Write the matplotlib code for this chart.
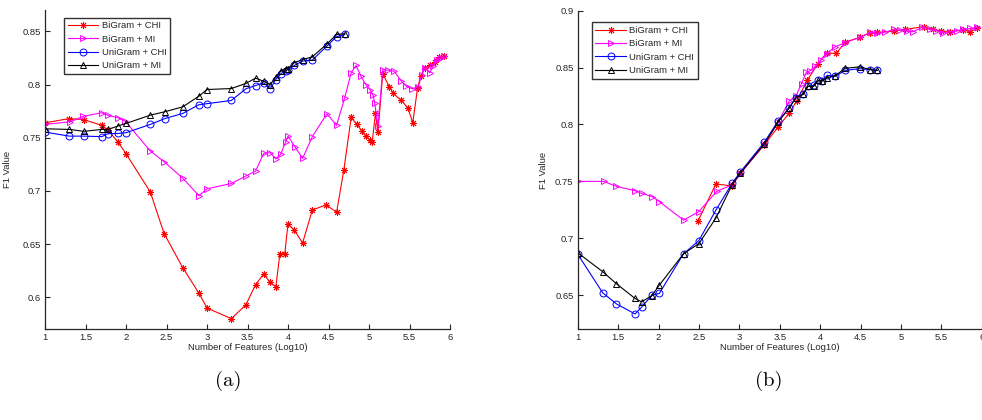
import matplotlib
matplotlib.use("Agg")
import matplotlib.pyplot as plt

plt.rcParams['font.family'] = ['Liberation Sans', 'DejaVu Sans']

# ---------------- data (a) ----------------
x_uni_a = [1.0, 1.3, 1.48, 1.7, 1.78, 1.9, 2.0, 2.3, 2.48, 2.7, 2.9, 3.0, 3.3, 3.48, 3.6, 3.7,
           3.78, 3.85, 3.91, 3.97, 4.0, 4.08, 4.18, 4.3, 4.48, 4.6, 4.7]
uni_chi_a = [0.7553, 0.7515, 0.7515, 0.751, 0.7538, 0.754, 0.7547, 0.7625, 0.768, 0.7728, 0.781,
             0.782, 0.785, 0.796, 0.799, 0.8016, 0.796, 0.8047, 0.810, 0.813, 0.814, 0.818, 0.822,
             0.823, 0.836, 0.845, 0.847]
uni_mi_a = [0.7584, 0.7578, 0.756, 0.7578, 0.7578, 0.761, 0.7634, 0.7712, 0.7744, 0.779, 0.789,
            0.7953, 0.7962, 0.801, 0.806, 0.803, 0.80, 0.807, 0.8125, 0.815, 0.815, 0.8206, 0.8234,
            0.826, 0.838, 0.847, 0.8478]

x_bichi_a = [1.0, 1.3, 1.48, 1.7, 1.78, 1.9, 2.0, 2.3, 2.47, 2.7, 2.9, 3.0, 3.3, 3.48, 3.6, 3.7,
             3.78, 3.85, 3.9, 3.96, 4.0, 4.08, 4.18, 4.3, 4.47, 4.6, 4.69, 4.78, 4.85, 4.91, 4.96,
             5.01, 5.04, 5.08, 5.11, 5.17, 5.25, 5.3, 5.4, 5.48, 5.54, 5.6, 5.64, 5.69, 5.75, 5.81,
             5.87, 5.92]
bi_chi_a = [0.764, 0.768, 0.767, 0.7616, 0.757, 0.746, 0.735, 0.699, 0.66, 0.628, 0.604, 0.59,
            0.58, 0.593, 0.612, 0.622, 0.614, 0.61, 0.641, 0.641, 0.669, 0.663, 0.651, 0.682,
            0.687, 0.68, 0.72, 0.769, 0.7625, 0.7566, 0.7515, 0.748, 0.746, 0.773, 0.755, 0.81,
            0.798, 0.7916, 0.785, 0.778, 0.764, 0.797, 0.808, 0.8157, 0.818, 0.821, 0.8257, 0.8266]

x_bimi_a = [1.0, 1.31, 1.47, 1.7, 1.78, 1.9, 1.99, 2.3, 2.47, 2.7, 2.9, 3.0, 3.3, 3.48, 3.6, 3.7,
            3.78, 3.85, 3.91, 3.97, 4.0, 4.09, 4.18, 4.3, 4.48, 4.6, 4.7, 4.78, 4.84, 4.9, 4.96,
            5.01, 5.05, 5.07, 5.11, 5.17, 5.24, 5.31, 5.4, 5.46, 5.53, 5.61, 5.65, 5.69, 5.75,
            5.79, 5.84, 5.89, 5.93]
bi_mi_a = [0.7625, 0.765, 0.77, 0.7735, 0.771, 0.7688, 0.7656, 0.7375, 0.7275, 0.712, 0.6956,
           0.702, 0.707, 0.714, 0.7187, 0.7353, 0.736, 0.73, 0.7344, 0.746, 0.7515, 0.741, 0.7306,
           0.751, 0.7725, 0.7616, 0.7875, 0.811, 0.818, 0.8078, 0.8, 0.7953, 0.79, 0.783, 0.761,
           0.814, 0.8134, 0.8125, 0.803, 0.7984, 0.796, 0.798, 0.8087, 0.8157, 0.811, 0.817,
           0.8234, 0.825, 0.8266]

# ---------------- data (b) ----------------
x_uni_b = [1.0, 1.31, 1.48, 1.71, 1.79, 1.92, 2.01, 2.31, 2.5, 2.71, 2.91, 3.01, 3.31, 3.48, 3.62,
           3.7, 3.79, 3.85, 3.92, 3.98, 4.02, 4.09, 4.19, 4.31, 4.49, 4.62, 4.71]
uni_chi_b = [0.686, 0.652, 0.6423, 0.6335, 0.6394, 0.65, 0.6515, 0.6864, 0.698, 0.7247, 0.7482,
             0.758, 0.7844, 0.803, 0.8147, 0.8235, 0.8265, 0.8335, 0.8344, 0.8388, 0.8382, 0.8432,
             0.8424, 0.8476, 0.849, 0.8483, 0.8476]
uni_mi_b = [0.6873, 0.6706, 0.66, 0.6471, 0.6441, 0.6497, 0.6588, 0.6864, 0.6953, 0.7177, 0.747,
            0.757, 0.783, 0.802, 0.8147, 0.8235, 0.8265, 0.8335, 0.8335, 0.8388, 0.8382, 0.8412,
            0.843, 0.8494, 0.8506, 0.8483, 0.8476]

x_bimi_b = [1.0, 1.32, 1.48, 1.71, 1.79, 1.92, 2.01, 2.31, 2.5, 2.72, 2.91, 3.01, 3.31, 3.48, 3.62,
            3.7, 3.77, 3.83, 3.87, 3.94, 4.01, 4.08, 4.18, 4.31, 4.49, 4.62, 4.7, 4.8, 4.91, 4.99,
            5.07, 5.15, 5.26, 5.36, 5.44, 5.52, 5.61, 5.69, 5.77, 5.86, 5.94]
bi_mi_b = [0.75, 0.75, 0.7456, 0.7418, 0.7394, 0.7367, 0.7323, 0.7159, 0.7235, 0.7412, 0.747,
           0.7565, 0.783, 0.802, 0.821, 0.8247, 0.836, 0.846, 0.847, 0.8512, 0.8565, 0.862, 0.868,
           0.872, 0.8765, 0.881, 0.88, 0.881, 0.8835, 0.8829, 0.8823, 0.8815, 0.8853, 0.8835,
           0.8823, 0.8806, 0.8815, 0.8823, 0.8835, 0.8844, 0.8853]

x_bichi_b = [2.49, 2.71, 2.91, 3.01, 3.31, 3.48, 3.62, 3.71, 3.84, 3.97, 4.08, 4.2, 4.31, 4.49,
             4.62, 4.7, 4.91, 5.05, 5.28, 5.4, 5.5, 5.61, 5.77, 5.86, 5.94]
bi_chi_b = [0.7153, 0.7477, 0.746, 0.757, 0.782, 0.798, 0.81, 0.8206, 0.8388, 0.853, 0.863, 0.8624,
            0.8724, 0.8765, 0.8806, 0.881, 0.882, 0.8835, 0.886, 0.8835, 0.8823, 0.8815, 0.883,
            0.8815, 0.8844]

labels = ['BiGram + CHI', 'BiGram + MI', 'UniGram + CHI', 'UniGram + MI']
x_ticks = [1, 1.5, 2, 2.5, 3, 3.5, 4, 4.5, 5, 5.5, 6]
x_ticklabels = ['1', '1.5', '2', '2.5', '3', '3.5', '4', '4.5', '5', '5.5', '6']
y_ticks_a = [0.6, 0.65, 0.7, 0.75, 0.8, 0.85]
y_ticklabels_a = ['0.6', '0.65', '0.7', '0.75', '0.8', '0.85']
y_ticks_b = [0.65, 0.7, 0.75, 0.8, 0.85, 0.9]
y_ticklabels_b = ['0.65', '0.7', '0.75', '0.8', '0.85', '0.9']

FS = 6.8
W, H = 982, 420
fig = plt.figure(figsize=(W / 100, H / 100), dpi=100)

ax_a = fig.add_axes([45 / W, 1 - 329.3 / H, 405 / W, 319.3 / H])
ax_b = fig.add_axes([577.7 / W, 1 - 329.3 / H, 404 / W, 318.6 / H])

asterisk = (8, 2, 0)
lw = 0.8
ms = 5
mew = 0.7


def draw(ax, xbc, ybc, xbm, ybm, xu, yuc, yum):
    ax.plot(xbc, ybc, color='#ff0000', lw=lw, marker=asterisk, ms=ms, mew=mew, label=labels[0])
    ax.plot(xbm, ybm, color='#ff00ff', lw=lw, marker='>', ms=ms, mew=mew, mfc='none',
            label=labels[1])
    ax.plot(xu, yuc, color='#0000ff', lw=lw, marker='o', ms=ms, mew=mew, mfc='none',
            label=labels[2])
    ax.plot(xu, yum, color='#000000', lw=lw, marker='^', ms=ms, mew=mew, mfc='none',
            label=labels[3])


draw(ax_a, x_bichi_a, bi_chi_a, x_bimi_a, bi_mi_a, x_uni_a, uni_chi_a, uni_mi_a)
draw(ax_b, x_bichi_b, bi_chi_b, x_bimi_b, bi_mi_b, x_uni_b, uni_chi_b, uni_mi_b)

ax_a.set_ylim(0.57, 0.87)
ax_b.set_ylim(0.62, 0.9)
for ax, yt, ytl in [(ax_a, y_ticks_a, y_ticklabels_a), (ax_b, y_ticks_b, y_ticklabels_b)]:
    ax.set_xlim(1, 6)
    ax.set_xticks(x_ticks)
    ax.set_xticklabels(x_ticklabels)
    ax.set_yticks(yt)
    ax.set_yticklabels(ytl)
    for s in ['top', 'right']:
        ax.spines[s].set_visible(False)
    for s in ['left', 'bottom']:
        ax.spines[s].set_color('#262626')
        ax.spines[s].set_linewidth(0.9)
    ax.tick_params(direction='in', length=3.5, width=0.8, labelsize=FS, colors='#262626',
                   pad=3)
    ax.set_xlabel('Number of Features (Log10)', fontsize=FS, color='#262626')
    ax.set_ylabel('F1 Value', fontsize=FS, color='#262626')
    ax.patch.set_alpha(0)

ax_a.xaxis.set_label_coords(0.5, -0.042)
ax_b.xaxis.set_label_coords(0.5, -0.042)
ax_a.yaxis.set_label_coords(-0.082, 0.5)
ax_b.yaxis.set_label_coords(-0.074, 0.5)

for ax, (lx, ly) in [(ax_a, (64, 17.7)), (ax_b, (591.7, 22.3))]:
    leg = ax.legend(loc='upper left', bbox_to_anchor=(lx / W, 1 - ly / H),
                    bbox_transform=fig.transFigure, fontsize=FS, frameon=True, fancybox=False,
                    handlelength=3.2, handletextpad=0.4, borderpad=0.4, labelspacing=0.45,
                    borderaxespad=0)
    leg.get_frame().set_edgecolor('black')
    leg.get_frame().set_linewidth(1.0)
    for t in leg.get_texts():
        t.set_color('#262626')

fig.text(228 / W, 1 - 381 / H, '(a)', family='cmr10', fontsize=15, ha='center', va='center')
fig.text(769 / W, 1 - 381 / H, '(b)', family='cmr10', fontsize=15, ha='center', va='center')

fig.savefig('out.png', dpi=100)
